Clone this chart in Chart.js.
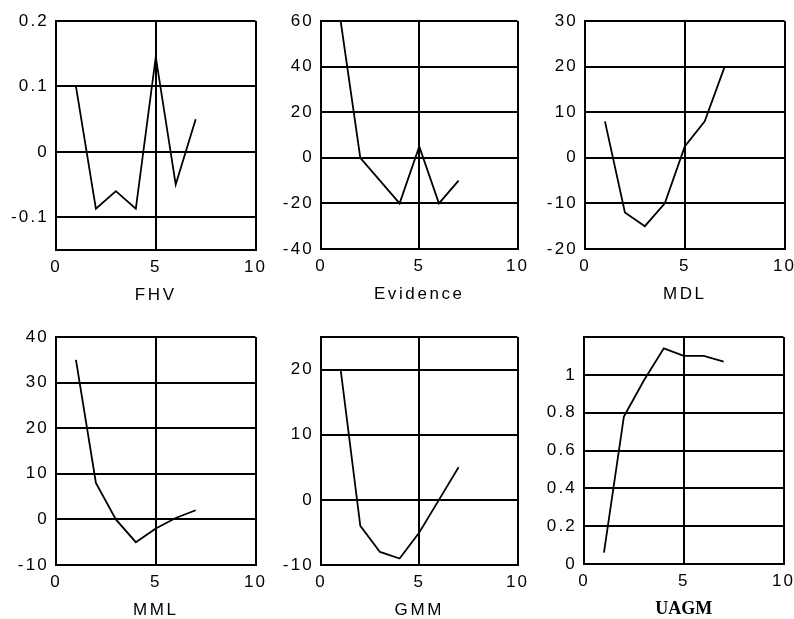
<!DOCTYPE html>
<html>
<head>
<meta charset="utf-8">
<script src="https://cdn.jsdelivr.net/npm/chart.js@4/dist/chart.umd.min.js"></script>
<style>
  html, body { margin: 0; padding: 0; background: #ffffff; }
  body { width: 794px; height: 619px; position: relative; overflow: hidden; }
  .box { position: absolute; }
</style>
</head>
<body>
<div class="box" id="b0"><canvas id="c0"></canvas></div>
<div class="box" id="b1"><canvas id="c1"></canvas></div>
<div class="box" id="b2"><canvas id="c2"></canvas></div>
<div class="box" id="b3"><canvas id="c3"></canvas></div>
<div class="box" id="b4"><canvas id="c4"></canvas></div>
<div class="box" id="b5"><canvas id="c5"></canvas></div>
<script>
// ---- data ----
const xValues = [1, 2, 3, 4, 5, 6, 7];
const xTickLabels = [0, 5, 10];

const fhvValues      = [0.1, -0.087, -0.06, -0.087, 0.145, -0.05, 0.05];
const evidenceValues = [60, 0, -10, -20, 5, -20, -10];
const mdlValues      = [8, -12, -15, -10, 2.5, 8, 20];
const mmlValues      = [35, 8, 0, -5, -2, 0.3, 2];
const gmmValues      = [20, -4, -8, -9, -5, 0, 5];
const uagmValues     = [0.06, 0.78, 0.97, 1.14, 1.1, 1.1, 1.07];

const fhvTicks      = [0.2, 0.1, 0, -0.1];
const evidenceTicks = [60, 40, 20, 0, -20, -40];
const mdlTicks      = [30, 20, 10, 0, -10, -20];
const mmlTicks      = [40, 30, 20, 10, 0, -10];
const gmmTicks      = [20, 10, 0, -10];
const uagmTicks     = [1, 0.8, 0.6, 0.4, 0.2, 0];

const panelTitles = ['FHV', 'Evidence', 'MDL', 'MML', 'GMM', 'UAGM'];

// ---- layout of panels (plot areas) ----
const panels = [
  { title: panelTitles[0], values: fhvValues,      ticks: fhvTicks,      yMin: -0.15, yMax: 0.2, area: [56, 21, 256, 250], serif: false },
  { title: panelTitles[1], values: evidenceValues, ticks: evidenceTicks, yMin: -40,   yMax: 60,  area: [321, 21, 518, 249], serif: false },
  { title: panelTitles[2], values: mdlValues,      ticks: mdlTicks,      yMin: -20,   yMax: 30,  area: [585, 21, 785, 249], serif: false },
  { title: panelTitles[3], values: mmlValues,      ticks: mmlTicks,      yMin: -10,   yMax: 40,  area: [56, 337, 256, 565], serif: false },
  { title: panelTitles[4], values: gmmValues,      ticks: gmmTicks,      yMin: -10,   yMax: 25,  area: [321, 337, 518, 565], serif: false },
  { title: panelTitles[5], values: uagmValues,     ticks: uagmTicks,     yMin: 0,     yMax: 1.2, area: [584, 337, 784, 564], serif: true }
];

const Y_W = 60, X_H = 60, PAD_T = 21, PAD_R = 16;
const SPACING = 2.2;

const spacedText = {
  id: 'spacedText',
  afterLayout(chart, args, opts) {
    Object.values(chart.scales).forEach(s => {
      if (s._spacedWrapped) return;
      const wrap = (name, sp) => {
        const orig = s[name].bind(s);
        s[name] = function (...a) {
          const ctx = this.ctx;
          const prev = ctx.letterSpacing;
          ctx.letterSpacing = sp + 'px';
          orig(...a);
          ctx.letterSpacing = prev;
        };
      };
      wrap('drawLabels', opts.tickSpacing);
      wrap('drawTitle', opts.titleSpacing);
      s._spacedWrapped = true;
    });
  }
};

const INK = '#000000';
const SANS = 'Liberation Sans, Arial, sans-serif';

panels.forEach((p, i) => {
  const [l, t, r, b] = p.area;
  const w = (r - l) + Y_W + PAD_R;
  const h = (b - t) + PAD_T + X_H;
  const box = document.getElementById('b' + i);
  box.style.left = (l - Y_W) + 'px';
  box.style.top = (t - PAD_T) + 'px';
  box.style.width = w + 'px';
  box.style.height = h + 'px';

  const tickSet = [p.yMin, ...p.ticks, p.yMax];
  const uniq = Array.from(new Set(tickSet.map(v => +v.toFixed(6)))).sort((a, c) => a - c);

  new Chart(document.getElementById('c' + i), {
    type: 'line',
    data: {
      datasets: [{
        data: xValues.map((x, k) => ({ x: x, y: p.values[k] })),
        borderColor: INK,
        borderWidth: 1.8,
        pointRadius: 0,
        tension: 0,
        fill: false
      }]
    },
    plugins: [spacedText],
    options: {
      responsive: true,
      maintainAspectRatio: false,
      animation: false,
      events: [],
      layout: { padding: { top: PAD_T, right: PAD_R, left: 0, bottom: 0 } },
      plugins: {
        legend: { display: false },
        tooltip: { enabled: false },
        spacedText: { tickSpacing: SPACING, titleSpacing: p.serif ? 0 : 2.6 }
      },
      scales: {
        x: {
          type: 'linear',
          min: 0, max: 10,
          afterFit(s) { s.height = X_H; },
          afterBuildTicks(s) { s.ticks = xTickLabels.map(v => ({ value: v })); },
          ticks: {
            color: INK, padding: 7, maxRotation: 0,
            font: { family: SANS, size: 17 },
            callback: v => String(v)
          },
          grid: { color: INK, lineWidth: 2, drawTicks: false },
          border: { display: true, color: INK, width: 2 },
          title: {
            display: true, text: p.title, color: INK,
            font: p.serif
              ? { family: 'Liberation Serif, Times New Roman, serif', size: 18, weight: 'bold' }
              : { family: SANS, size: 17 },
            padding: { top: 0, bottom: 4 }
          }
        },
        y: {
          type: 'linear',
          min: p.yMin, max: p.yMax,
          afterFit(s) { s.width = Y_W; },
          afterBuildTicks(s) { s.ticks = uniq.map(v => ({ value: v })); },
          ticks: {
            color: INK, padding: 7,
            font: { family: SANS, size: 17 },
            callback: v => p.ticks.some(tv => Math.abs(tv - v) < 1e-9) ? String(+v.toFixed(3)) : ''
          },
          grid: { color: INK, lineWidth: 2, drawTicks: false },
          border: { display: true, color: INK, width: 2 }
        }
      }
    }
  });
});
</script>
</body>
</html>
